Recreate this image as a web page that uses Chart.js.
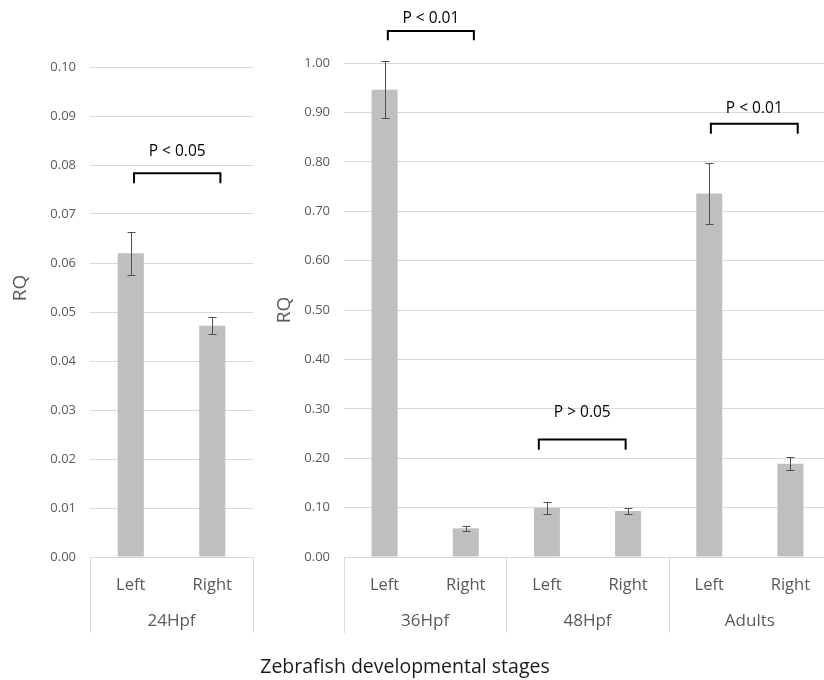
<!DOCTYPE html>
<html>
<head>
<meta charset="utf-8">
<script src="https://cdn.jsdelivr.net/npm/chart.js@4.4.1/dist/chart.umd.min.js"></script>
<style>
  html, body { margin: 0; padding: 0; width: 824px; height: 680px; overflow: hidden; background: #fff; }
  #left { position: absolute; left: 0; top: 0; }
  #right { position: absolute; left: 262px; top: 0; }
  #xtitle { position: absolute; left: 0; width: 810px; top: 652px; text-align: center;
            font: 19.5px 'Open Sans', sans-serif; color: #1a1a1a; }
</style>
</head>
<body>
<canvas id="left" width="270" height="680"></canvas>
<canvas id="right" width="570" height="680"></canvas>
<div id="xtitle">Zebrafish developmental stages</div>
<script>
// 24Hpf panel
const leftStages = ['24Hpf'];
const leftSides = ['Left', 'Right'];
const leftRQ = [0.0620, 0.0472];
const leftErr = [0.0044, 0.0017];
const leftPValues = ['P < 0.05'];

// 36Hpf / 48Hpf / Adults panel
const rightStages = ['36Hpf', '48Hpf', 'Adults'];
const rightSides = ['Left', 'Right', 'Left', 'Right', 'Left', 'Right'];
const rightRQ = [0.946, 0.058, 0.099, 0.093, 0.736, 0.189];
const rightErr = [0.058, 0.0045, 0.012, 0.0055, 0.061, 0.0125];
const rightPValues = ['P < 0.01', 'P > 0.05', 'P < 0.01'];

Chart.defaults.font.family = "'Open Sans', sans-serif";

const grey = '#595959';
const lines = '#d9d9d9';

// brackets: category index range, then bracket/label heights in RQ units
const leftBrackets = [{ from: 0.04, to: 1.1, top: 0.0783, foot: 0.0763, label: 0.0827 }];
const rightBrackets = [
  { from: 0.04, to: 1.1, top: 1.065, foot: 1.046, label: 1.090 },
  { from: 1.9, to: 2.97, top: 0.238, foot: 0.217, label: 0.292 },
  { from: 4.02, to: 5.09, top: 0.877, foot: 0.857, label: 0.908 },
];

function extras(cfg) {
  return {
    id: 'extras',
    afterDatasetsDraw(chart) {
      const ctx = chart.ctx, x = chart.scales.x, y = chart.scales.y;
      const area = chart.chartArea;
      ctx.save();

      // error bars
      ctx.strokeStyle = '#505050';
      ctx.lineWidth = 1;
      cfg.values.forEach((v, i) => {
        const px = Math.round(x.getPixelForValue(i)) + 0.5;
        const t = Math.round(y.getPixelForValue(v + cfg.errors[i])) + 0.5;
        const b = Math.round(y.getPixelForValue(v - cfg.errors[i])) + 0.5;
        ctx.beginPath();
        ctx.moveTo(px, t); ctx.lineTo(px, b);
        ctx.moveTo(px - 4, t); ctx.lineTo(px + 4, t);
        ctx.moveTo(px - 4, b); ctx.lineTo(px + 4, b);
        ctx.stroke();
      });

      // significance brackets
      ctx.strokeStyle = '#000';
      ctx.lineWidth = 2;
      ctx.fillStyle = '#000';
      ctx.font = "15.5px 'Open Sans', sans-serif";
      ctx.textAlign = 'center';
      ctx.textBaseline = 'middle';
      cfg.brackets.forEach((br, i) => {
        const x1 = x.getPixelForValue(br.from), x2 = x.getPixelForValue(br.to);
        const yt = y.getPixelForValue(br.top), yf = y.getPixelForValue(br.foot);
        ctx.beginPath();
        ctx.moveTo(x1, yf); ctx.lineTo(x1, yt); ctx.lineTo(x2, yt); ctx.lineTo(x2, yf);
        ctx.stroke();
        ctx.fillText(cfg.pvalues[i], (x1 + x2) / 2, y.getPixelForValue(br.label));
      });

      // group boxes under the category axis
      ctx.strokeStyle = lines;
      ctx.lineWidth = 1;
      ctx.fillStyle = grey;
      ctx.font = "17px 'Open Sans', sans-serif";
      cfg.groups.forEach((g, gi) => {
        const s = gi * 2;
        const a = Math.round(x.getPixelForValue(s - 0.5)) + 0.5;
        const e = Math.round(x.getPixelForValue(s + 1.5)) + 0.5;
        ctx.beginPath();
        ctx.moveTo(a, area.bottom); ctx.lineTo(a, 633);
        ctx.moveTo(e, area.bottom); ctx.lineTo(e, 633);
        ctx.stroke();
        ctx.fillText(g, x.getPixelForValue(s + 0.5), 621);
      });

      // axis title
      ctx.fillStyle = grey;
      ctx.font = "19px 'Open Sans', sans-serif";
      ctx.translate(cfg.titleX, cfg.titleY);
      ctx.rotate(-Math.PI / 2);
      ctx.fillText('RQ', 0, 0);
      ctx.restore();
    }
  };
}

function panel(labels, values, max, step, yWidth, padTop, padRight) {
  return {
    type: 'bar',
    data: {
      labels: labels,
      datasets: [{
        data: values,
        backgroundColor: '#bfbfbf',
        barPercentage: 0.32,
        categoryPercentage: 1,
      }],
    },
    options: {
      responsive: false,
      animation: false,
      layout: { padding: { top: padTop, right: padRight, bottom: 0, left: 0 } },
      plugins: { legend: { display: false }, tooltip: { enabled: false } },
      scales: {
        x: {
          grid: { display: false },
          border: { display: true, color: lines },
          ticks: { color: grey, font: { size: 16.5 }, padding: 10, maxRotation: 0 },
          afterFit: s => { s.height = 123; },
        },
        y: {
          min: 0, max: max,
          grid: { color: lines, drawTicks: false },
          border: { display: false },
          ticks: { stepSize: step, color: grey, font: { size: 13 }, padding: 14,
                   callback: v => Number(v).toFixed(2) },
          afterFit: s => { s.width = yWidth; },
        },
      },
    },
  };
}

const leftCfg = panel(leftSides, leftRQ, 0.1, 0.01, 90, 67, 17);
leftCfg.plugins = [extras({ values: leftRQ, errors: leftErr, brackets: leftBrackets,
  pvalues: leftPValues, groups: leftStages, titleX: 21, titleY: 288 })];
new Chart(document.getElementById('left'), leftCfg);

const rightCfg = panel(rightSides, rightRQ, 1, 0.1, 82, 63, 1);
rightCfg.plugins = [extras({ values: rightRQ, errors: rightErr, brackets: rightBrackets,
  pvalues: rightPValues, groups: rightStages, titleX: 23, titleY: 310 })];
new Chart(document.getElementById('right'), rightCfg);
</script>
</body>
</html>
